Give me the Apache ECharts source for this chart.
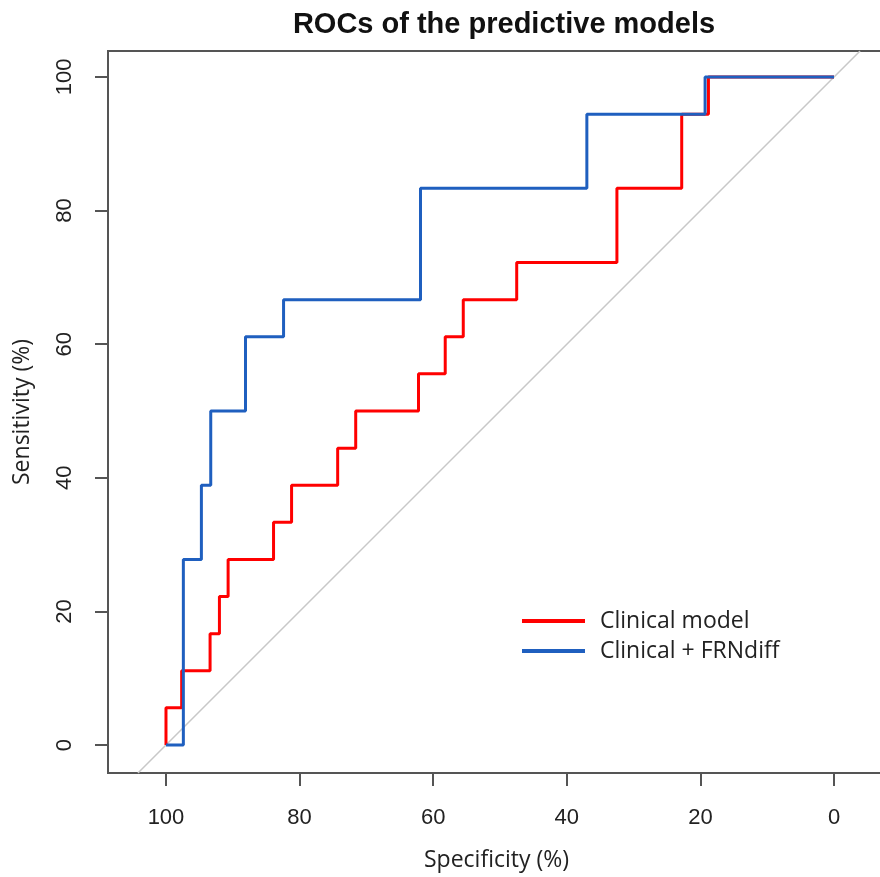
<!DOCTYPE html>
<html>
<head>
<meta charset="utf-8" />
<title>ROCs of the predictive models</title>
<script src="https://cdn.jsdelivr.net/npm/echarts@6/dist/echarts.min.js"></script>
<style>
  html, body { margin: 0; padding: 0; background: #fff; }
  #roc { width: 880px; height: 877px; }
</style>
</head>
<body>
<div id="roc"></div>
<script>
// tick labels (%)
const ticks = [0, 20, 40, 60, 80, 100];

// Clinical model: ROC corner points (specificity, sensitivity)
const clinicalSpec = [100, 100, 97.65, 97.65, 93.4, 93.4, 92.0, 92.0, 90.7, 90.7, 83.9, 83.9,
  81.2, 81.2, 74.3, 74.3, 71.6, 71.6, 62.2, 62.2, 58.2, 58.2, 55.5, 55.5, 47.5, 47.5,
  32.5, 32.5, 22.8, 22.8, 18.8, 18.8, 0];
const clinicalSens = [0, 5.56, 5.56, 11.11, 11.11, 16.67, 16.67, 22.22, 22.22, 27.78, 27.78, 33.33,
  33.33, 38.89, 38.89, 44.44, 44.44, 50, 50, 55.56, 55.56, 61.11, 61.11, 66.67, 66.67, 72.22,
  72.22, 83.33, 83.33, 94.44, 94.44, 100, 100];

// Clinical + FRNdiff
const frnSpec = [100, 97.4, 97.4, 94.7, 94.7, 93.3, 93.3, 88.1, 88.1, 82.4, 82.4, 61.9, 61.9,
  37.0, 37.0, 19.3, 19.3, 0];
const frnSens = [0, 0, 27.78, 27.78, 38.89, 38.89, 50, 50, 61.11, 61.11, 66.67, 66.67, 83.33,
  83.33, 94.44, 94.44, 100, 100];

// reference diagonal (spec + sens = 100), spanning the plot box
const diagSpec = [104.19, -3.89];
const diagSens = [-4.19, 103.89];

const pairs = (xs, ys) => xs.map((x, i) => [x, ys[i]]);

const chart = echarts.init(document.getElementById('roc'));
const tickFont = { fontFamily: 'Liberation Sans, Arial, sans-serif', fontSize: 22, color: '#222' };
const nameFont = { fontFamily: 'Open Sans, Noto Sans, sans-serif', fontSize: 23, color: '#222' };

chart.setOption({
  animation: false,
  title: {
    text: 'ROCs of the predictive models',
    left: 499, top: 5, textAlign: 'center',
    textStyle: { fontFamily: 'Liberation Sans, Arial, sans-serif', fontWeight: 'bold', fontSize: 29, color: '#111' }
  },
  legend: {
    orient: 'vertical',
    left: 517, top: 604,
    itemWidth: 63, itemHeight: 4, itemGap: 6,
    icon: 'rect',
    textStyle: { fontFamily: 'Open Sans, Noto Sans, sans-serif', fontSize: 23, lineHeight: 24, color: '#222', padding: [0, 0, 0, 10] },
    data: ['Clinical model', 'Clinical + FRNdiff']
  },
  grid: {
    left: 108, top: 51, width: 777, bottom: 104,
    outerBoundsMode: 'none', containLabel: false,
    show: true, borderColor: '#555', borderWidth: 2
  },
  xAxis: {
    type: 'value', inverse: true,
    min: -7.63, max: 108.68,
    name: 'Specificity (%)', nameLocation: 'middle', nameGap: 76,
    nameTextStyle: nameFont,
    axisLine: { show: false, onZero: false },
    splitLine: { show: false },
    axisTick: { show: true, customValues: ticks, length: 13, lineStyle: { color: '#555', width: 2 } },
    axisLabel: { customValues: ticks, margin: 34, ...tickFont }
  },
  yAxis: {
    type: 'value',
    min: -4.19, max: 103.89,
    name: 'Sensitivity (%)', nameLocation: 'middle', nameGap: 74, nameRotate: 90,
    nameTextStyle: nameFont,
    axisLine: { show: false, onZero: false },
    splitLine: { show: false },
    axisTick: { show: true, customValues: ticks, length: 13, lineStyle: { color: '#555', width: 2 } },
    axisLabel: { customValues: ticks, margin: 32, rotate: 90, ...tickFont }
  },
  series: [
    {
      name: 'diagonal', type: 'line', silent: true, symbol: 'none',
      data: pairs(diagSpec, diagSens),
      lineStyle: { color: '#c8c8c8', width: 1.5 }
    },
    {
      name: 'Clinical model', type: 'line', symbol: 'none',
      data: pairs(clinicalSpec, clinicalSens),
      lineStyle: { color: '#ff0000', width: 3 }, itemStyle: { color: '#ff0000' }
    },
    {
      name: 'Clinical + FRNdiff', type: 'line', symbol: 'none',
      data: pairs(frnSpec, frnSens),
      lineStyle: { color: '#1f5fbf', width: 3 }, itemStyle: { color: '#1f5fbf' }
    }
  ]
});
</script>
</body>
</html>
